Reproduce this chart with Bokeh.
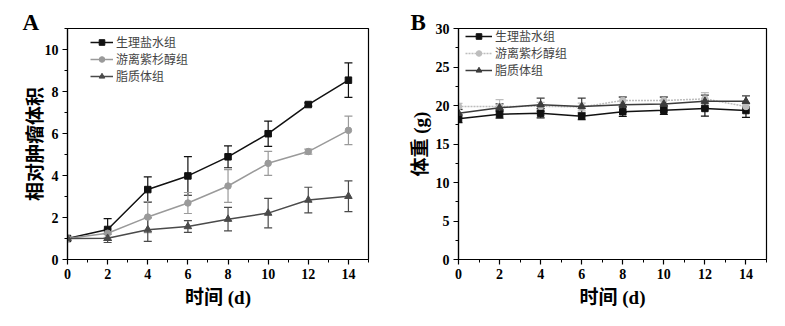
from bokeh.plotting import figure
from bokeh.layouts import row
from bokeh.models import ColumnDataSource, Whisker, TeeHead, Title, Legend, LegendItem, FixedTicker
from bokeh.embed import file_html
from bokeh.resources import INLINE

days = [0, 2, 4, 6, 8, 10, 12, 14]
groups = ["生理盐水组", "游离紫杉醇组", "脂质体组"]

# Panel A: relative tumour volume
vol_saline = [1.0, 1.43, 3.33, 3.98, 4.89, 5.99, 7.38, 8.54]
vol_saline_err = [0.0, 0.52, 0.6, 0.92, 0.52, 0.6, 0.08, 0.82]
vol_ptx = [1.0, 1.25, 2.02, 2.69, 3.5, 4.58, 5.14, 6.15]
vol_ptx_err = [0.0, 0.2, 0.74, 0.5, 0.78, 0.57, 0.12, 0.68]
vol_lipo = [1.0, 1.01, 1.42, 1.57, 1.92, 2.21, 2.83, 3.01]
vol_lipo_err = [0.0, 0.2, 0.56, 0.28, 0.56, 0.7, 0.61, 0.73]

# Panel B: body weight (g)
wt_saline = [18.27, 18.87, 19.0, 18.6, 19.2, 19.38, 19.62, 19.35]
wt_saline_err = [0.5, 0.5, 0.6, 0.45, 0.6, 0.55, 1.0, 0.9]
wt_ptx = [19.87, 19.87, 19.9, 19.8, 20.65, 20.65, 20.86, 19.87]
wt_ptx_err = [0.4, 0.9, 0.5, 0.5, 0.5, 0.5, 0.8, 0.5]
wt_lipo = [19.0, 19.7, 20.1, 19.87, 20.1, 20.2, 20.55, 20.55]
wt_lipo_err = [0.5, 0.5, 0.85, 1.1, 1.0, 0.9, 0.8, 0.7]

SERIF = "'Liberation Serif', 'Noto Sans CJK SC'"
CJK = "'Noto Sans CJK SC'"


def make_panel(width, left, right, top, bottom, yend, ymajor, ylabel, ystandoff,
               letter, letter_off, letter_standoff, series, legend_loc, glyph_w):
    p = figure(width=width, height=326, x_range=(0, 15), y_range=(0, yend),
               output_backend="svg", toolbar_location=None,
               min_border_left=left, min_border_right=right,
               min_border_top=top, min_border_bottom=bottom)
    p.xgrid.visible = False
    p.ygrid.visible = False
    p.outline_line_color = "black"
    p.outline_line_width = 1.2
    p.background_fill_color = "white"
    p.border_fill_color = "white"
    p.xaxis.ticker = FixedTicker(ticks=list(range(0, 15, 2)), minor_ticks=list(range(0, 16)))
    yt = [v for v in range(0, yend + 1, ymajor)]
    ym = [v * ymajor / 2 for v in range(0, 2 * (yend // ymajor) + 2)]
    p.yaxis.ticker = FixedTicker(ticks=yt, minor_ticks=ym)
    for ax in (p.xaxis, p.yaxis):
        ax.axis_line_width = 1.2
        ax.major_tick_line_width = 1.2
        ax.minor_tick_line_width = 1.0
        ax.major_tick_out = 5
        ax.major_tick_in = 0
        ax.minor_tick_out = 3
        ax.minor_tick_in = 0
        ax.major_label_text_font = SERIF
        ax.major_label_text_font_style = "bold"
        ax.major_label_text_font_size = "14px"
        ax.major_label_text_color = "black"
        ax.axis_label_text_font = SERIF
        ax.axis_label_text_font_style = "bold"
        ax.axis_label_text_font_size = "19px"
        ax.axis_label_text_color = "black"
    p.xaxis.axis_label = "时间 (d)"
    p.yaxis.axis_label = ylabel
    p.xaxis.major_label_standoff = 4
    p.xaxis.axis_label_standoff = 5
    p.yaxis.major_label_standoff = 4
    p.yaxis.axis_label_standoff = ystandoff

    items = []
    for name, ys, errs, color, marker, msize, dash in series:
        src = ColumnDataSource(dict(x=days, y=ys,
                                    lo=[a - b for a, b in zip(ys, errs)],
                                    hi=[a + b for a, b in zip(ys, errs)]))
        w = Whisker(base="x", upper="hi", lower="lo", source=src,
                    line_color=color, line_width=1.2,
                    upper_head=TeeHead(size=8, line_color=color, line_width=1.2),
                    lower_head=TeeHead(size=8, line_color=color, line_width=1.2))
        p.add_layout(w)
        ln = p.line("x", "y", source=src, line_color=color, line_width=1.5, line_dash=dash)
        sc = p.scatter("x", "y", source=src, marker=marker, size=msize,
                       fill_color=color, line_color=color)
        items.append(LegendItem(label=name, renderers=[ln, sc]))

    leg = Legend(items=items, location=legend_loc, padding=0, margin=0, spacing=0,
                 glyph_width=glyph_w, glyph_height=14, label_height=15, label_standoff=3,
                 label_text_font=CJK, label_text_font_size="12px",
                 background_fill_alpha=0, border_line_alpha=0)
    p.add_layout(leg)

    p.add_layout(Title(text=letter, align="left", offset=letter_off, standoff=letter_standoff,
                       text_font="'Liberation Serif'", text_font_style="bold",
                       text_font_size="23px", text_color="black"), "above")
    return p


pa = make_panel(390, 67, 22, 24, 66, 11, 2, "相对肿瘤体积", -4, "A", -45, -13,
                [(groups[0], vol_saline, vol_saline_err, "#111111", "square", 6.5, "solid"),
                 (groups[1], vol_ptx, vol_ptx_err, "#9a9a9a", "circle", 6.5, "solid"),
                 (groups[2], vol_lipo, vol_lipo_err, "#4a4a4a", "triangle", 7.5, "solid")],
                (23, 175), 23)
pb = make_panel(395, 68, 19, 28, 67, 30, 5, "体重 (g)", 2, "B", -48, -13,
                [(groups[0], wt_saline, wt_saline_err, "#111111", "square", 6.5, "solid"),
                 (groups[1], wt_ptx, wt_ptx_err, "#bdbdbd", "circle", 6.5, "2 1"),
                 (groups[2], wt_lipo, wt_lipo_err, "#3c3c3c", "triangle", 7.5, "solid")],
                (7, 181), 27)

layout = row(pa, pb)
open("out.html", "w").write(file_html(layout, INLINE))
